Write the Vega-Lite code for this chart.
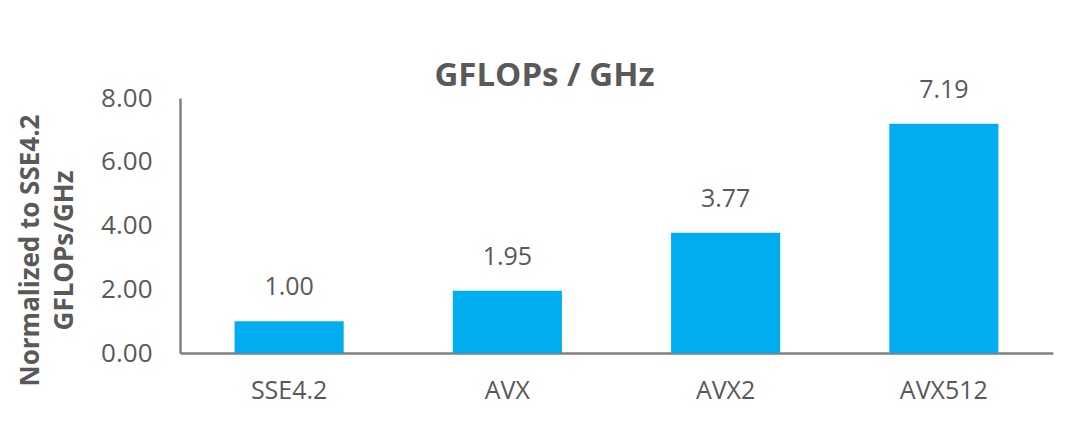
{
  "$schema": "https://vega.github.io/schema/vega-lite/v6.json",
  "width": 873,
  "height": 255,
  "autosize": {"type": "none"},
  "padding": {"left": 180, "top": 98, "right": 27, "bottom": 74},
  "background": "white",
  "config": {"view": {"stroke": null}, "font": "Open Sans"},
  "title": {
    "text": "GFLOPs / GHz",
    "font": "Open Sans",
    "fontSize": 33,
    "fontWeight": "bold",
    "color": "#595959",
    "anchor": "middle",
    "dx": -72,
    "offset": -15
  },
  "data": {
    "values": [
      {"isa": "SSE4.2", "value": 1.00},
      {"isa": "AVX", "value": 1.95},
      {"isa": "AVX2", "value": 3.77},
      {"isa": "AVX512", "value": 7.19}
    ]
  },
  "encoding": {
    "x": {
      "field": "isa",
      "type": "nominal",
      "sort": null,
      "scale": {"paddingInner": 0.5, "paddingOuter": 0.25},
      "axis": {
        "title": null,
        "labelAngle": 0,
        "labelFont": "Open Sans",
        "labelFontSize": 25,
        "labelColor": "#595959",
        "labelPadding": 25,
        "ticks": false,
        "domainColor": "#808080",
        "domainWidth": 2.5,
        "grid": false
      }
    },
    "y": {
      "field": "value",
      "type": "quantitative",
      "scale": {"domain": [0, 8]},
      "axis": {
        "values": [0, 2, 4, 6, 8],
        "format": ".2f",
        "labelFont": "Open Sans",
        "labelFontSize": 26,
        "labelColor": "#595959",
        "labelPadding": 28,
        "ticks": false,
        "grid": false,
        "domainColor": "#808080",
        "domainWidth": 2.5,
        "title": ["Normalized to SSE4.2", "GFLOPs/GHz"],
        "titleFont": "Open Sans",
        "titleFontSize": 26,
        "titleFontWeight": "bold",
        "titleColor": "#595959",
        "titleLineHeight": 34,
        "titleAngle": -90,
        "titleAlign": "center",
        "titleBaseline": "middle",
        "titleX": -150,
        "titleY": 152
      }
    }
  },
  "layer": [
    {"mark": {"type": "bar", "color": "#00AEEF"}},
    {
      "mark": {"type": "text", "font": "Open Sans", "fontSize": 25, "color": "#595959", "baseline": "middle", "dy": -34},
      "encoding": {"text": {"field": "value", "type": "quantitative", "format": ".2f"}}
    }
  ]
}
